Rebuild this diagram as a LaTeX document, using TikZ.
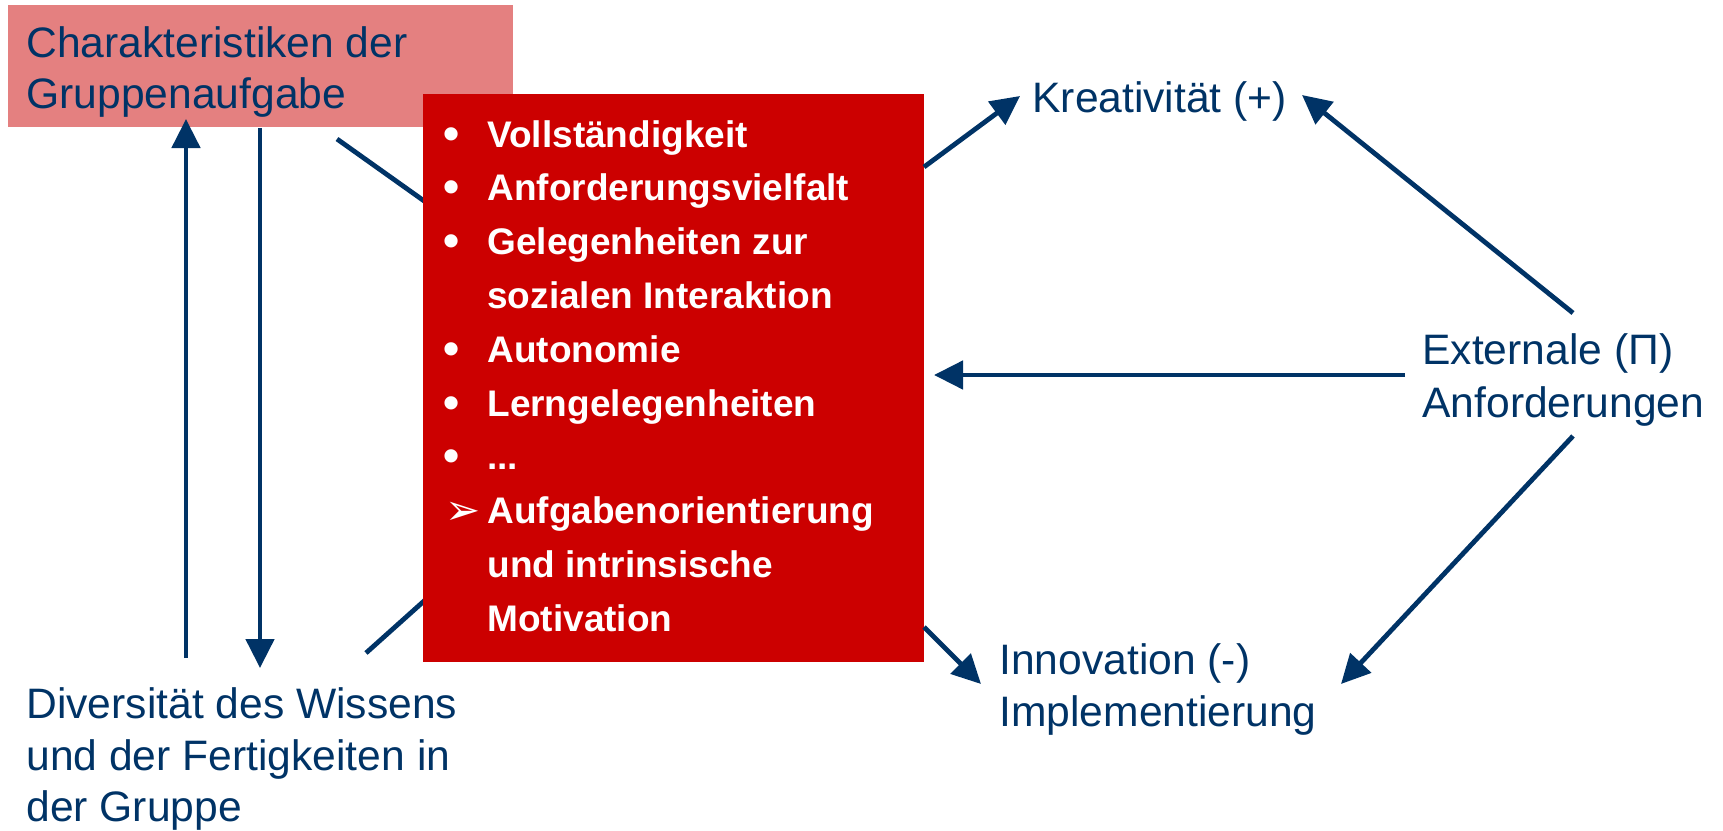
\documentclass[tikz,border=0pt]{standalone}
\usepackage{fontspec}
\setmainfont{Liberation Sans}
\newfontfamily\dejavu{DejaVu Sans}
\usetikzlibrary{arrows.meta}
\definecolor{navy}{HTML}{003366}
\definecolor{rosefill}{HTML}{E48080}
\definecolor{boxred}{HTML}{CC0000}
\begin{document}
\begin{tikzpicture}[x=0.5pt,y=-0.5pt,
  bluetext/.style={anchor=base west, inner sep=0pt, text=navy, font=\fontsize{21.3}{26}\selectfont},
  listtext/.style={anchor=base west, inner sep=0pt, text=white, font=\fontsize{18.5}{26}\selectfont\bfseries},
  bullettext/.style={anchor=base west, inner sep=0pt, text=white, font=\fontsize{23}{26}\selectfont\bfseries},
  conn/.style={draw=navy, line width=2.4pt},
  arr/.style={conn, -{Triangle[length=14.5pt,width=14pt]}}]
\useasboundingbox (0,0) rectangle (1723,830);

% pink box
\node[fill=rosefill, inner sep=0pt, anchor=north west, minimum width=252.5pt, minimum height=61pt] (pink) at (8,5) {};
\node[bluetext] (pink1) at (26,57) {Charakteristiken der};
\node[bluetext] (pink2) at (26,108) {Gruppenaufgabe};

% lines hidden behind the red box
\coordinate (redc) at (673,378);
\coordinate (l3s) at (337,139);
\coordinate (l4s) at (366,653);
\draw[conn] (l3s) -- (redc);
\draw[conn] (l4s) -- (redc);

\node[fill=boxred, inner sep=0pt, anchor=north west, minimum width=250.5pt, minimum height=284pt] (red) at (423,94) {};

% list
\foreach \i/\t in {1/Vollständigkeit, 2/Anforderungsvielfalt, 3/Gelegenheiten zur, 4/sozialen Interaktion, 5/Autonomie, 6/Lerngelegenheiten, 8/Aufgabenorientierung, 9/und intrinsische, 10/Motivation}
  \node[listtext] (line\i) at (487,{147+53.8*(\i-1)}) {\t};
\node[listtext] (line7) at (487,{147+53.8*6}) {...};
\foreach \i in {1,2,3,5,6,7}
  \node[bullettext] (bul\i) at (443,{149+53.8*(\i-1)}) {•};
\node[listtext, font=\fontsize{21}{26}\selectfont\dejavu] (bul8) at (445,{148+53.8*7}) {➢};

% other labels
\node[bluetext] (kreat) at (1032,112) {Kreativität (+)};
\node[bluetext] (ext1) at (1422,364) {Externale (Π)};
\node[bluetext] (ext2) at (1422,417) {Anforderungen};
\node[bluetext] (inno1) at (999,674) {Innovation (-)};
\node[bluetext] (inno2) at (999,726) {Implementierung};
\node[bluetext] (div1) at (26,718) {Diversität des Wissens};
\node[bluetext] (div2) at (26,770) {und der Fertigkeiten in};
\node[bluetext] (div3) at (26,821) {der Gruppe};

% connector end points
\coordinate (a1s) at (186,658); \coordinate (a1e) at (186,119);
\coordinate (a2s) at (260,128); \coordinate (a2e) at (260,668);
\coordinate (a5s) at (924,167); \coordinate (a5e) at (1020,96);
\coordinate (a6s) at (924,627); \coordinate (a6e) at (981,684);
\coordinate (a7s) at (1405,375); \coordinate (a7e) at (934,375);
\coordinate (a8s) at (1573,313); \coordinate (a8e) at (1302,95);
\coordinate (a9s) at (1573,436); \coordinate (a9e) at (1341,684);

\draw[arr] (a1s) -- (a1e);
\draw[arr] (a2s) -- (a2e);
\draw[arr] (a5s) -- (a5e);
\draw[arr] (a6s) -- (a6e);
\draw[arr] (a7s) -- (a7e);
\draw[arr] (a8s) -- (a8e);
\draw[arr] (a9s) -- (a9e);
\end{tikzpicture}
\end{document}
